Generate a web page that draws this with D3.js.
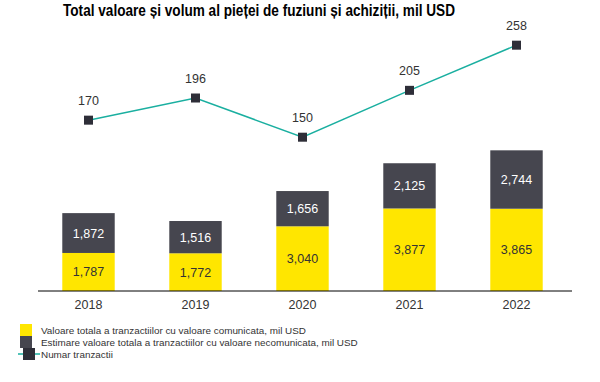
<!DOCTYPE html>
<html><head><meta charset="utf-8">
<script src="https://cdn.jsdelivr.net/npm/d3@7"></script>
<style>body{margin:0;background:#fff;font-family:Arial,"Liberation Sans",sans-serif}</style>
</head><body><svg id="c" width="600" height="382"></svg>
<script>
const years = ["2018","2019","2020","2021","2022"];
const reported = [1787,1772,3040,3877,3865];
const estimated = [1872,1516,1656,2125,2744];
const deals = [170,196,150,205,258];
const legendLabels = ["Valoare totala a tranzactiilor cu valoare comunicata, mil USD","Estimare valoare totala a tranzactiilor cu valoare necomunicata, mil USD","Numar tranzactii"];
const title = "Total valoare și volum al pieței de fuziuni și achiziții, mil USD";

const YEL="#FFE600", DARK="#46464F", TEAL="#1AAFA0", MARK="#2E2E38";
const svg=d3.select("#c");
const x=d3.scaleBand().domain(years).range([35,570]).paddingInner(0.51).paddingOuter(0.255);
const y=d3.scaleLinear().domain([0,7000]).range([291,142]);
const yl=d3.scaleLinear().domain([0,300]).range([265,9.4]);

svg.append("text").attr("x",259).attr("y",16).attr("text-anchor","middle")
  .attr("font-size",16.5).attr("font-weight","bold").attr("fill","#000")
  .attr("textLength",392).attr("lengthAdjust","spacingAndGlyphs").text(title);

const g=svg.append("g");
years.forEach((yr,i)=>{
  const x0=x(yr), w=x.bandwidth();
  g.append("rect").attr("x",x0).attr("y",y(reported[i])).attr("width",w).attr("height",y(0)-y(reported[i])).attr("fill",YEL);
  g.append("rect").attr("x",x0).attr("y",y(reported[i]+estimated[i])).attr("width",w).attr("height",y(0)-y(estimated[i])).attr("fill",DARK);
  g.append("text").attr("x",x0+w/2).attr("y",(y(0)+y(reported[i]))/2+4.5).attr("text-anchor","middle").attr("font-size",12.5).attr("fill","#333").text(d3.format(",")(reported[i]));
  g.append("text").attr("x",x0+w/2).attr("y",(y(reported[i])+y(reported[i]+estimated[i]))/2+4.5).attr("text-anchor","middle").attr("font-size",12.5).attr("fill","#fff").text(d3.format(",")(estimated[i]));
});

const ax=svg.append("g").attr("transform","translate(0,291)").call(d3.axisBottom(x).tickSize(0).tickPadding(9));
ax.select(".domain").attr("stroke","#000").attr("d","M38,0H572");
ax.selectAll("text").attr("font-size",12.5).attr("fill","#333").attr("font-family","Arial,'Liberation Sans',sans-serif");

const line=d3.line().x((d,i)=>x(years[i])+x.bandwidth()/2).y(d=>yl(d));
svg.append("path").datum(deals).attr("d",line).attr("fill","none").attr("stroke",TEAL).attr("stroke-width",1.5);
svg.selectAll(".m").data(deals).enter().append("rect").attr("x",(d,i)=>x(years[i])+x.bandwidth()/2-4.5).attr("y",d=>yl(d)-4.5).attr("width",9).attr("height",9).attr("fill",MARK);
svg.selectAll(".ml").data(deals).enter().append("text").attr("x",(d,i)=>x(years[i])+x.bandwidth()/2).attr("y",d=>yl(d)-15).attr("text-anchor","middle").attr("font-size",12.5).attr("fill","#333").text(d=>d);

const lg=svg.append("g");
const ly=[330,342,354];
lg.append("rect").attr("x",20).attr("y",ly[0]-6).attr("width",12).attr("height",12).attr("fill",YEL);
lg.append("rect").attr("x",20).attr("y",ly[1]-6).attr("width",12).attr("height",12).attr("fill",DARK);
lg.append("line").attr("x1",18).attr("x2",40).attr("y1",ly[2]).attr("y2",ly[2]).attr("stroke",TEAL).attr("stroke-width",1.5);
lg.append("rect").attr("x",23).attr("y",ly[2]-6).attr("width",12).attr("height",12).attr("fill",MARK);
legendLabels.forEach((t,i)=>lg.append("text").attr("x",41).attr("y",ly[i]+3.5).attr("font-size",9.9).attr("fill","#333").text(t));
</script></body></html>
